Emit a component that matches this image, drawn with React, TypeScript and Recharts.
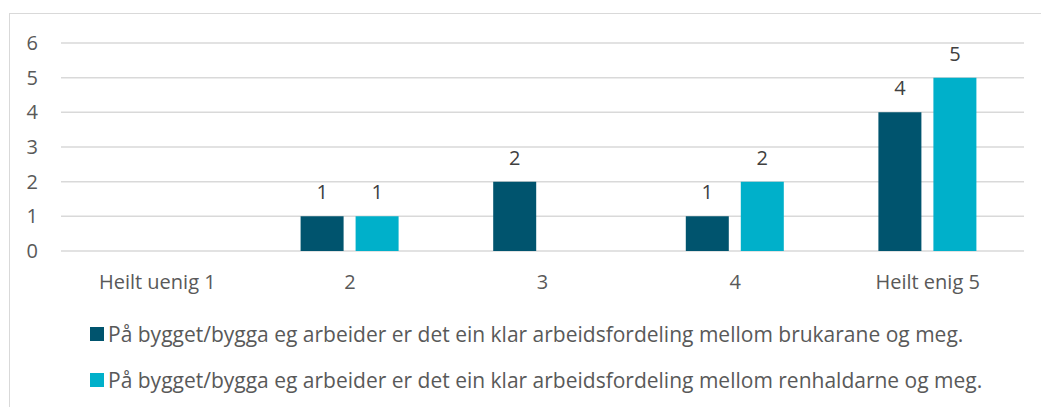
import { Bar, BarChart, CartesianGrid, LabelList, Legend, XAxis, YAxis } from "recharts"

// Svar fordelt på skala 1-5
const categories = ["Heilt uenig 1", "2", "3", "4", "Heilt enig 5"]
const brukarane = [null, 1, 2, 1, 4]
const renhaldarne = [null, 1, null, 2, 5]
const yTicks = [0, 1, 2, 3, 4, 5, 6]

const seriesNames = [
  "På bygget/bygga eg arbeider er det ein klar arbeidsfordeling mellom brukarane og meg.",
  "På bygget/bygga eg arbeider er det ein klar arbeidsfordeling mellom renhaldarne og meg.",
]

const data = categories.map((name, i) => ({
  name,
  brukarane: brukarane[i],
  renhaldarne: renhaldarne[i],
}))

const font = "'Open Sans', sans-serif"

function LegendContent({ payload }: any) {
  return (
    <div style={{ fontFamily: font, fontSize: 21, color: "#595959" }}>
      {(payload || []).map((item: any) => (
        <div key={item.value} style={{ display: "flex", alignItems: "center", height: 46 }}>
          <span style={{ width: 14, height: 14, background: item.color, marginRight: 4, display: "inline-block" }} />
          <span>{item.value}</span>
        </div>
      ))}
    </div>
  )
}

export default function App() {
  return (
    <div style={{ position: "fixed", left: 0, top: 0, width: 1041, height: 407, overflow: "hidden", background: "#fff" }}>
      <div
        style={{
          position: "absolute",
          left: 9,
          top: 13,
          width: 1100,
          height: 500,
          border: "1px solid #d9d9d9",
        }}
      />
      <BarChart
        width={1041}
        height={407}
        data={data}
        margin={{ top: 43, right: 17, left: 0, bottom: 34 }}
        barSize={43}
        barGap={12}
        style={{ position: "absolute", left: 0, top: 0 }}
      >
        <CartesianGrid vertical={false} stroke="#d9d9d9" strokeWidth={1.5} />
        <XAxis
          dataKey="name"
          axisLine={false}
          tickLine={false}
          tickMargin={18}
          interval={0}
          tick={{ fill: "#595959", fontSize: 20, fontFamily: font }}
        />
        <YAxis
          width={61}
          domain={[0, 6]}
          ticks={yTicks}
          interval={0}
          axisLine={false}
          tickLine={false}
          tickMargin={17}
          tick={{ fill: "#595959", fontSize: 20, fontFamily: font }}
        />
        <Legend
          verticalAlign="bottom"
          content={LegendContent}
          wrapperStyle={{ position: "absolute", left: 90, top: 311, width: 945 }}
        />
        <Bar dataKey="brukarane" name={seriesNames[0]} fill="#00546E" isAnimationActive={false}>
          <LabelList dataKey="brukarane" position="top" offset={17} fill="#404040" fontSize={20} fontFamily={font} />
        </Bar>
        <Bar dataKey="renhaldarne" name={seriesNames[1]} fill="#00B0CA" isAnimationActive={false}>
          <LabelList dataKey="renhaldarne" position="top" offset={17} fill="#404040" fontSize={20} fontFamily={font} />
        </Bar>
      </BarChart>
    </div>
  )
}
